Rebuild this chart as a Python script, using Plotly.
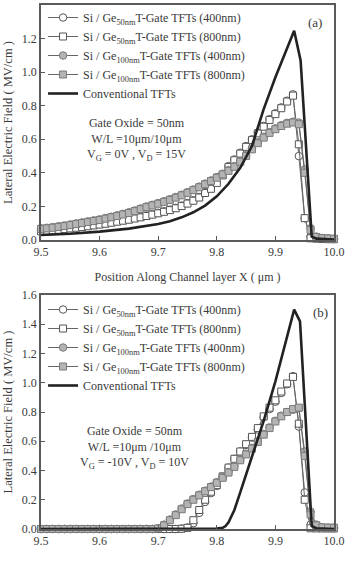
import plotly.graph_objects as go

# ---------------- data ----------------
x_grid = [9.50, 9.51, 9.52, 9.53, 9.54, 9.55, 9.56, 9.57, 9.58, 9.59,
          9.60, 9.61, 9.62, 9.63, 9.64, 9.65, 9.66, 9.67, 9.68, 9.69,
          9.70, 9.71, 9.72, 9.73, 9.74, 9.75, 9.76, 9.77, 9.78, 9.79,
          9.80, 9.81, 9.82, 9.83, 9.84, 9.85, 9.86, 9.87, 9.88, 9.89,
          9.90, 9.91, 9.92, 9.93, 9.94, 9.95, 9.96, 9.97, 9.98, 9.99, 10.00]

# Panel (a): VG = 0V, VD = 15V
a_ge50_400 = [0.055, 0.058, 0.061, 0.064, 0.068, 0.072, 0.076, 0.080, 0.085, 0.090,
              0.095, 0.100, 0.106, 0.112, 0.118, 0.124, 0.131, 0.138, 0.146, 0.154,
              0.162, 0.171, 0.181, 0.192, 0.205, 0.220, 0.237, 0.256, 0.285, 0.310,
              0.345, 0.390, 0.440, 0.480, 0.520, 0.560, 0.600, 0.640, 0.680, 0.720,
              0.755, 0.790, 0.830, 0.868, 0.500, 0.130, 0.020, 0.010, 0.008, 0.006, 0.005]
a_ge50_800 = [0.052, 0.055, 0.058, 0.061, 0.065, 0.069, 0.073, 0.077, 0.082, 0.087,
              0.092, 0.097, 0.103, 0.109, 0.115, 0.121, 0.128, 0.135, 0.143, 0.151,
              0.159, 0.168, 0.178, 0.189, 0.202, 0.217, 0.234, 0.253, 0.280, 0.305,
              0.340, 0.385, 0.435, 0.475, 0.515, 0.555, 0.595, 0.635, 0.675, 0.715,
              0.750, 0.785, 0.825, 0.860, 0.570, 0.130, 0.010, 0.008, 0.006, 0.005, 0.005]
a_ge100_400 = [0.070, 0.073, 0.077, 0.082, 0.087, 0.093, 0.099, 0.105, 0.111, 0.117,
               0.123, 0.131, 0.139, 0.147, 0.156, 0.165, 0.176, 0.188, 0.200, 0.210,
               0.220, 0.231, 0.243, 0.256, 0.270, 0.285, 0.301, 0.318, 0.336, 0.355,
               0.375, 0.395, 0.416, 0.440, 0.470, 0.505, 0.545, 0.582, 0.615, 0.643,
               0.665, 0.684, 0.698, 0.705, 0.700, 0.420, 0.070, 0.020, 0.012, 0.010, 0.008]
a_ge100_800 = [0.066, 0.069, 0.073, 0.078, 0.083, 0.089, 0.095, 0.101, 0.107, 0.113,
               0.119, 0.127, 0.135, 0.143, 0.152, 0.161, 0.172, 0.184, 0.196, 0.206,
               0.216, 0.227, 0.239, 0.252, 0.266, 0.281, 0.297, 0.314, 0.332, 0.351,
               0.371, 0.391, 0.412, 0.436, 0.466, 0.500, 0.540, 0.577, 0.610, 0.638,
               0.660, 0.679, 0.693, 0.700, 0.690, 0.400, 0.060, 0.018, 0.011, 0.009, 0.007]
a_conv_x = [9.50, 9.55, 9.60, 9.65, 9.70, 9.72, 9.74, 9.76, 9.78, 9.80, 9.82,
            9.84, 9.86, 9.88, 9.90, 9.92, 9.932, 9.943, 9.962, 9.97, 10.00]
a_conv_y = [0.030, 0.037, 0.050, 0.068, 0.095, 0.112, 0.135, 0.165, 0.205, 0.260, 0.335,
            0.430, 0.560, 0.780, 0.970, 1.140, 1.247, 1.070, 0.020, 0.008, 0.003]

# Panel (b): VG = -10V, VD = 10V
b_ge50_400 = [0.0, 0.0, 0.0, 0.0, 0.0, 0.0, 0.0, 0.0, 0.0, 0.0,
              0.0, 0.0, 0.0, 0.0, 0.0, 0.0, 0.0, 0.0, 0.0, 0.0,
              0.0, 0.0, 0.0, 0.0, 0.003, 0.010, 0.040, 0.110, 0.185, 0.245,
              0.295, 0.355, 0.420, 0.480, 0.530, 0.575, 0.625, 0.680, 0.765, 0.820,
              0.870, 0.930, 0.990, 1.045, 0.700, 0.250, 0.030, 0.010, 0.006, 0.005, 0.005]
b_ge50_800 = [0.0, 0.0, 0.0, 0.0, 0.0, 0.0, 0.0, 0.0, 0.0, 0.0,
              0.0, 0.0, 0.0, 0.0, 0.0, 0.0, 0.0, 0.0, 0.0, 0.0,
              0.0, 0.0, 0.0, 0.0, 0.002, 0.008, 0.060, 0.130, 0.200, 0.255,
              0.300, 0.360, 0.420, 0.480, 0.530, 0.580, 0.630, 0.690, 0.770, 0.830,
              0.880, 0.940, 0.995, 1.040, 0.720, 0.200, 0.005, 0.004, 0.004, 0.004, 0.004]
b_ge100_400 = [0.0, 0.0, 0.0, 0.0, 0.0, 0.0, 0.0, 0.0, 0.0, 0.0,
               0.0, 0.0, 0.0, 0.0, 0.0, 0.0, 0.0, 0.0, 0.0, 0.0,
               0.005, 0.030, 0.065, 0.100, 0.140, 0.175, 0.205, 0.235, 0.262, 0.290,
               0.320, 0.355, 0.390, 0.430, 0.475, 0.515, 0.555, 0.600, 0.650, 0.695,
               0.740, 0.775, 0.800, 0.815, 0.825, 0.530, 0.120, 0.030, 0.012, 0.010, 0.010]
b_ge100_800 = [0.0, 0.0, 0.0, 0.0, 0.0, 0.0, 0.0, 0.0, 0.0, 0.0,
               0.0, 0.0, 0.0, 0.0, 0.0, 0.0, 0.0, 0.0, 0.0, 0.0,
               0.004, 0.025, 0.060, 0.095, 0.135, 0.170, 0.200, 0.230, 0.258, 0.286,
               0.316, 0.350, 0.386, 0.425, 0.470, 0.510, 0.550, 0.595, 0.645, 0.690,
               0.735, 0.770, 0.800, 0.820, 0.830, 0.500, 0.100, 0.025, 0.011, 0.009, 0.009]
b_conv_x = [9.50, 9.70, 9.80, 9.81, 9.815, 9.82, 9.83, 9.84, 9.86, 9.88,
            9.90, 9.92, 9.932, 9.942, 9.962, 9.97, 10.00]
b_conv_y = [0.0, 0.0, 0.003, 0.008, 0.020, 0.045, 0.130, 0.250, 0.490, 0.740,
            1.010, 1.310, 1.500, 1.420, 0.020, 0.005, 0.0]

names = ["Si / Ge<sub>50nm</sub>T-Gate TFTs (400nm)",
         "Si / Ge<sub>50nm</sub>T-Gate TFTs (800nm)",
         "Si / Ge<sub>100nm</sub>T-Gate TFTs (400nm)",
         "Si / Ge<sub>100nm</sub>T-Gate TFTs (800nm)",
         "Conventional TFTs"]

x_ticks = [9.5, 9.6, 9.7, 9.8, 9.9, 10.0]
ya_ticks = [0.0, 0.2, 0.4, 0.6, 0.8, 1.0, 1.2, 1.4]
yb_ticks = [0.0, 0.2, 0.4, 0.6, 0.8, 1.0, 1.2, 1.4, 1.6]

# ---------------- styles ----------------
FONT = "Liberation Serif"
TXT = "#3a3a3a"
AX = "#5a5a5a"
LN = "#666666"
styles = [
    dict(symbol="circle", size=7.5, color="white", line=dict(color="#555555", width=1)),
    dict(symbol="square", size=7, color="white", line=dict(color="#555555", width=1)),
    dict(symbol="circle", size=7.5, color="#b4b4b4", line=dict(color="#7a7a7a", width=1)),
    dict(symbol="square", size=7, color="#b4b4b4", line=dict(color="#7a7a7a", width=1)),
]

fig = go.Figure()

panels = [
    ("x", "y", "legend", [a_ge50_400, a_ge50_800, a_ge100_400, a_ge100_800], a_conv_x, a_conv_y),
    ("x2", "y2", "legend2", [b_ge50_400, b_ge50_800, b_ge100_400, b_ge100_800], b_conv_x, b_conv_y),
]
for xa, ya, lg, series, cx, cy in panels:
    for i, s in enumerate(series):
        fig.add_trace(go.Scatter(
            x=x_grid, y=s, mode="lines+markers", name=names[i],
            line=dict(color=LN, width=1), marker=styles[i],
            xaxis=xa, yaxis=ya, legend=lg,
            cliponaxis=False))
    fig.add_trace(go.Scatter(
        x=cx, y=cy, mode="lines", name=names[4],
        line=dict(color="#222222", width=2.6),
        xaxis=xa, yaxis=ya, legend=lg,
        cliponaxis=False))

H_PLOT = 561 - 5 - 32
dom_a = [(529 - 240) / H_PLOT, 1.0]
dom_b = [0.0, (529 - 295) / H_PLOT]


def py(pix):
    """pixel row (from top of figure) -> paper y"""
    return 1 - (pix - 5) / H_PLOT


axis_common = dict(showline=True, mirror=True, linecolor=AX, linewidth=1.5,
                   ticks="inside", ticklen=4, tickwidth=1, tickcolor=AX,
                   showgrid=False, zeroline=False,
                   tickfont=dict(family=FONT, size=12, color=TXT))

XTITLE = "Position Along Channel layer X ( μm )"
xtitle = dict(text=XTITLE, font=dict(family=FONT, size=12, color=TXT), standoff=14)
ytitle = dict(text="Lateral Electric Field ( MV/cm )",
              font=dict(family=FONT, size=12.5, color=TXT), standoff=6)

leg_common = dict(xanchor="left", yanchor="top", bgcolor="rgba(0,0,0,0)",
                  tracegroupgap=0, font=dict(family=FONT, size=12, color=TXT))

fig.update_layout(
    width=346, height=561,
    margin=dict(l=41, r=12, t=5, b=32, autoexpand=False),
    paper_bgcolor="white", plot_bgcolor="white",
    xaxis=dict(domain=[0, 1], anchor="y", range=[9.5, 10.0], tickvals=x_ticks,
               tickformat=".1f", title=xtitle, **axis_common),
    yaxis=dict(domain=dom_a, anchor="x", range=[0, 1.4], tickvals=ya_ticks,
               tickformat=".1f", title=ytitle, **axis_common),
    xaxis2=dict(domain=[0, 1], anchor="y2", range=[9.5, 10.0], tickvals=x_ticks,
                tickformat=".1f", **axis_common),
    yaxis2=dict(domain=dom_b, anchor="x2", range=[0, 1.6], tickvals=yb_ticks,
                tickformat=".1f", title=ytitle, **axis_common),
    showlegend=True,
    legend=dict(x=0.007, y=py(3), **leg_common),
    legend2=dict(x=0.007, y=py(295), **leg_common),
)

ann_font = dict(family=FONT, size=12, color=TXT)
# bottom panel's x-axis title (sits partly below the figure edge, as in the reference)
fig.add_annotation(x=0.5, y=py(559), xref="paper", yref="paper", text=XTITLE,
                   xanchor="center", yanchor="top", showarrow=False,
                   font=dict(family=FONT, size=12, color=TXT))
fig.add_annotation(x=(315 - 41) / 293, y=py(22), xref="paper", yref="paper", text="(a)",
                   xanchor="center", yanchor="middle",
                   showarrow=False, font=dict(family=FONT, size=13, color=TXT))
fig.add_annotation(x=(320 - 41) / 293, y=py(312), xref="paper", yref="paper", text="(b)",
                   xanchor="center", yanchor="middle",
                   showarrow=False, font=dict(family=FONT, size=13, color=TXT))
fig.add_annotation(x=(136 - 41) / 293, y=py(139), xref="paper", yref="paper",
                   xanchor="center", yanchor="middle",
                   text="Gate Oxide = 50nm<br>W/L =10μm/10μm<br>V<sub>G</sub> = 0V , V<sub>D</sub> = 15V",
                   showarrow=False, font=ann_font, align="center")
fig.add_annotation(x=(134 - 41) / 293, y=py(447), xref="paper", yref="paper",
                   xanchor="center", yanchor="middle",
                   text="Gate Oxide = 50nm<br>W/L =10μm /10μm<br>V<sub>G</sub> = -10V , V<sub>D</sub> = 10V",
                   showarrow=False, font=ann_font, align="center")

fig.write_html("out.html")
